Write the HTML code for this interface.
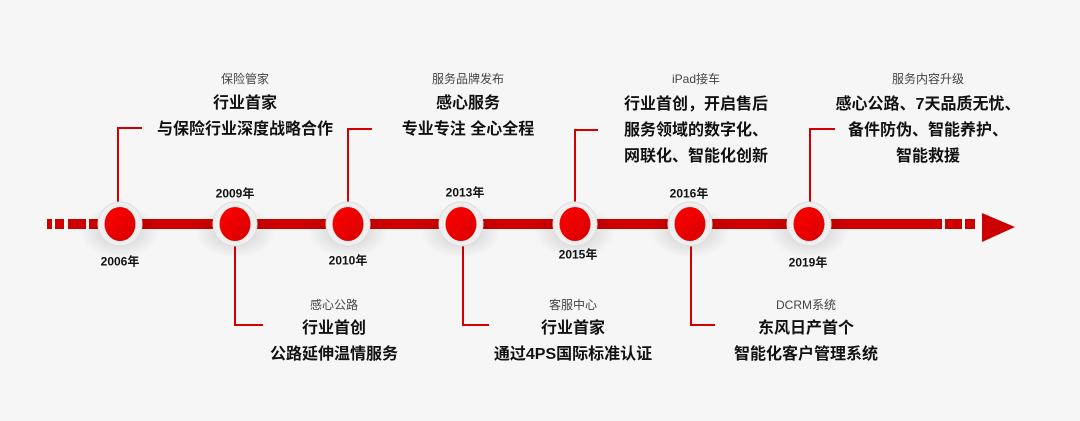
<!DOCTYPE html>
<html><head><meta charset="utf-8"><style>
body{margin:0;width:1080px;height:421px;background:#f6f6f6;position:relative;overflow:hidden;font-family:"Liberation Sans","Noto Sans CJK SC",sans-serif;color:#111}
.t{position:absolute;transform:translateX(-50%);text-align:center;white-space:nowrap}
.s{font-size:12px;color:#444;line-height:16px}
.b{font-size:16px;font-weight:bold;line-height:26px}
.y{position:absolute;transform:translate(-50%,-50%);font-size:12px;font-weight:bold;white-space:nowrap}
</style></head><body>
<svg width="1080" height="421" style="position:absolute;left:0;top:0">
<defs>
<radialGradient id="sh" cx="50%" cy="50%" r="50%"><stop offset="0" stop-color="#000" stop-opacity=".18"/><stop offset="1" stop-color="#000" stop-opacity="0"/></radialGradient>
<linearGradient id="rd" x1="0" y1="0" x2="1" y2="1"><stop offset="0" stop-color="#ff0000"/><stop offset="1" stop-color="#d60000"/></linearGradient>
</defs>
<g fill="#cc0000">
<rect x="47" y="219" width="5" height="10"/><rect x="55" y="219" width="9" height="10"/><rect x="68" y="219" width="18" height="10"/><rect x="89" y="219" width="9" height="10"/>
<rect x="98" y="219" width="844" height="10"/>
<rect x="945" y="219" width="17" height="10"/><rect x="965" y="219" width="10" height="10"/>
<polygon points="982,213 1015,227 982,242"/>
</g>
<g stroke="#d40000" stroke-width="2" fill="none">
<polyline points="142,128 118,128 118,205"/>
<polyline points="372,129 348,129 348,205"/>
<polyline points="598,130 575,130 575,205"/>
<polyline points="835,129 810,129 810,205"/>
<polyline points="235,244 235,325 263,325"/>
<polyline points="463,244 463,325 489,325"/>
<polyline points="691,244 691,325 715,325"/>
</g>
<g>
<ellipse cx="120" cy="232" rx="40" ry="26" fill="url(#sh)"/>
<ellipse cx="235" cy="232" rx="40" ry="26" fill="url(#sh)"/>
<ellipse cx="348" cy="232" rx="40" ry="26" fill="url(#sh)"/>
<ellipse cx="461" cy="232" rx="40" ry="26" fill="url(#sh)"/>
<ellipse cx="575" cy="232" rx="40" ry="26" fill="url(#sh)"/>
<ellipse cx="690" cy="232" rx="40" ry="26" fill="url(#sh)"/>
<ellipse cx="809" cy="232" rx="40" ry="26" fill="url(#sh)"/>
</g>
<g fill="#efefef" stroke="#dedede" stroke-width="1">
<circle cx="120" cy="224" r="22"/><circle cx="235" cy="224" r="22"/><circle cx="348" cy="224" r="22"/><circle cx="461" cy="224" r="22"/><circle cx="575" cy="224" r="22"/><circle cx="690" cy="224" r="22"/><circle cx="809" cy="224" r="22"/>
</g>
<g fill="url(#rd)">
<ellipse cx="120" cy="224" rx="15.5" ry="17"/><ellipse cx="235" cy="224" rx="15.5" ry="17"/><ellipse cx="348" cy="224" rx="15.5" ry="17"/><ellipse cx="461" cy="224" rx="15.5" ry="17"/><ellipse cx="575" cy="224" rx="15.5" ry="17"/><ellipse cx="690" cy="224" rx="15.5" ry="17"/><ellipse cx="809" cy="224" rx="15.5" ry="17"/>
</g>
</svg>
<div class="y" style="left:120px;top:261px">2006年</div>
<div class="y" style="left:235px;top:193px">2009年</div>
<div class="y" style="left:348px;top:260px">2010年</div>
<div class="y" style="left:465px;top:192px">2013年</div>
<div class="y" style="left:578px;top:254px">2015年</div>
<div class="y" style="left:689px;top:193px">2016年</div>
<div class="y" style="left:808px;top:262px">2019年</div>

<div class="t" style="left:245px;top:71px"><div class="s">保险管家</div><div class="b" style="margin-top:4px">行业首家</div><div class="b">与保险行业深度战略合作</div></div>
<div class="t" style="left:468px;top:71px"><div class="s">服务品牌发布</div><div class="b" style="margin-top:4px">感心服务</div><div class="b">专业专注 全心全程</div></div>
<div class="t" style="left:696px;top:71px"><div class="s">iPad接车</div><div class="b" style="margin-top:5px">行业首创，开启售后</div><div class="b">服务领域的数字化、</div><div class="b">网联化、智能化创新</div></div>
<div class="t" style="left:928px;top:71px"><div class="s">服务内容升级</div><div class="b" style="margin-top:5px">感心公路、7天品质无忧、</div><div class="b">备件防伪、智能养护、</div><div class="b">智能救援</div></div>

<div class="t" style="left:334px;top:297px"><div class="s">感心公路</div><div class="b" style="margin-top:3px">行业首创</div><div class="b">公路延伸温情服务</div></div>
<div class="t" style="left:573px;top:297px"><div class="s">客服中心</div><div class="b" style="margin-top:3px">行业首家</div><div class="b">通过4PS国际标准认证</div></div>
<div class="t" style="left:806px;top:297px"><div class="s">DCRM系统</div><div class="b" style="margin-top:3px">东风日产首个</div><div class="b">智能化客户管理系统</div></div>
</body></html>
